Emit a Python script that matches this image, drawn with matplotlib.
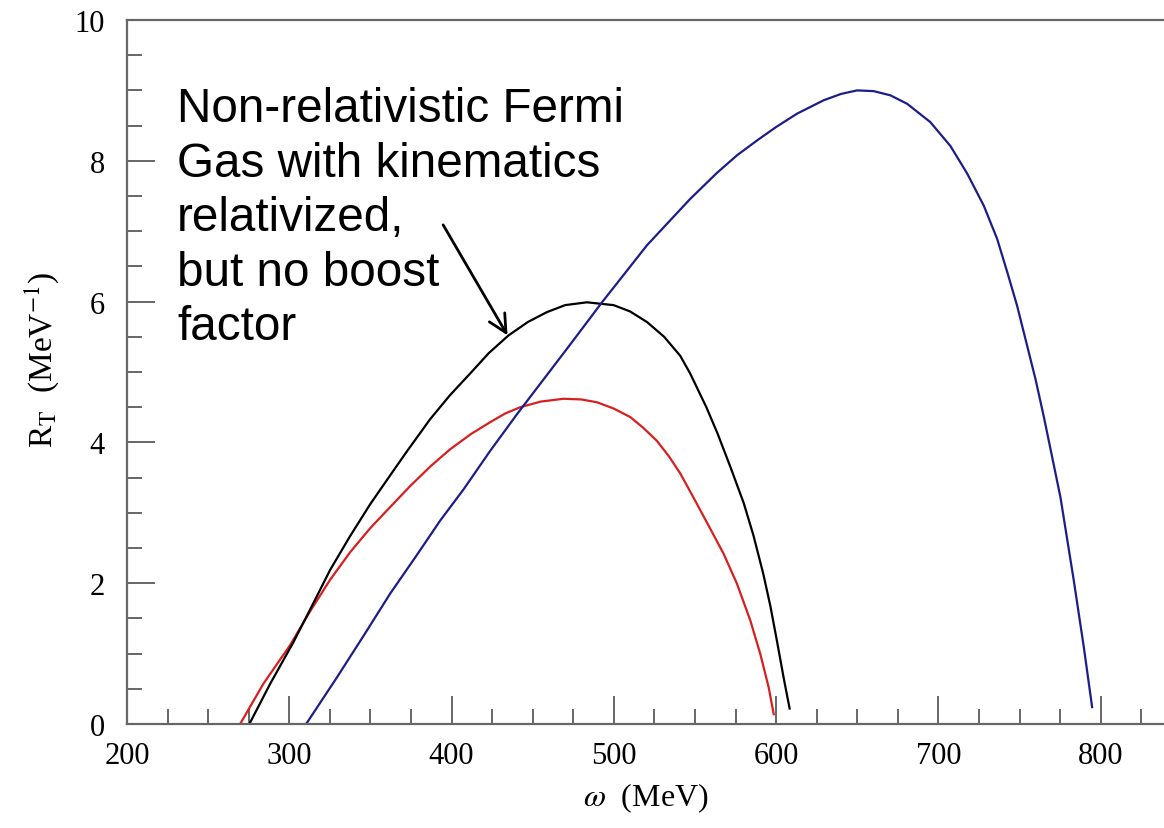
import numpy as np
import matplotlib
matplotlib.use("Agg")
import matplotlib.pyplot as plt
from matplotlib.ticker import MultipleLocator

plt.rcParams['font.family'] = 'Liberation Serif'
plt.rcParams['mathtext.fontset'] = 'stix'

# curve points (omega in MeV, R_T in MeV^-1)
w_black = [275.4, 288.2, 302.5, 314.9, 325.2, 337.5, 349.8, 362.1, 372.4, 386.8, 399.0, 411.5, 423.0,
           435.1, 447.0, 458.7, 470.0, 483.4, 499.8, 510.0, 520.4, 531.0, 540.9, 547.0, 557.0, 564.0,
           572.0, 580.0, 586.0, 592.0, 596.4, 600.5, 604.6, 608.3]
r_black = [0.0, 0.57, 1.16, 1.72, 2.19, 2.67, 3.12, 3.53, 3.87, 4.33, 4.67, 4.98, 5.27,
           5.52, 5.71, 5.85, 5.95, 5.99, 5.95, 5.86, 5.71, 5.50, 5.23, 4.98, 4.50, 4.12,
           3.64, 3.14, 2.68, 2.14, 1.68, 1.18, 0.66, 0.22]

w_red = [269.7, 284.0, 300.5, 312.8, 325.2, 337.5, 349.8, 362.1, 374.5, 387.0, 399.0, 412.0, 424.0,
         433.0, 442.3, 455.0, 469.0, 480.0, 489.6, 500.0, 510.1, 518.0, 526.6, 534.0, 540.9, 547.1,
         557.4, 567.6, 575.9, 584.1, 590.3, 595.4, 598.5]
r_red = [0.0, 0.57, 1.12, 1.60, 2.05, 2.44, 2.78, 3.08, 3.38, 3.66, 3.90, 4.12, 4.29,
         4.41, 4.50, 4.58, 4.62, 4.61, 4.57, 4.48, 4.36, 4.21, 4.02, 3.80, 3.56, 3.30,
         2.86, 2.42, 1.99, 1.47, 0.99, 0.52, 0.14]

w_blue = [310.4, 329.3, 345.7, 362.1, 378.6, 393.0, 407.3, 423.8, 440.3, 471.1, 492.7, 520.4, 547.1,
          563.6, 576.0, 588.3, 600.0, 612.9, 629.3, 640.0, 649.9, 660.0, 670.4, 680.7, 695.0, 707.4,
          717.7, 728.0, 736.2, 742.4, 748.5, 754.7, 759.8, 764.9, 775.2, 783.4, 789.6, 794.7]
r_blue = [0.0, 0.66, 1.25, 1.85, 2.40, 2.89, 3.33, 3.88, 4.40, 5.33, 5.99, 6.80, 7.46,
          7.83, 8.08, 8.29, 8.48, 8.67, 8.86, 8.95, 9.0, 8.99, 8.93, 8.81, 8.55, 8.21,
          7.82, 7.36, 6.89, 6.42, 5.94, 5.37, 4.90, 4.37, 3.22, 2.04, 1.09, 0.24]

note = "Non-relativistic Fermi\nGas with kinematics\nrelativized,\nbut no boost\nfactor"

fig = plt.figure(figsize=(11.64, 8.29), dpi=100)
ax = fig.add_axes([127/1164, 104/829, 1 - 127/1164, (725 - 21)/829])

ax.plot(w_red, r_red, color='#d81e1e', lw=1.6)
ax.plot(w_black, r_black, color='black', lw=1.6)
ax.plot(w_blue, r_blue, color='#1c1c8a', lw=1.6)

ax.set_xlim(200, 839)
ax.set_ylim(0, 10)

ax.xaxis.set_major_locator(MultipleLocator(100))
ax.xaxis.set_minor_locator(MultipleLocator(25))
ax.yaxis.set_major_locator(MultipleLocator(2))
ax.yaxis.set_minor_locator(MultipleLocator(0.5))

gray = '#666666'
for side in ['left', 'bottom', 'top']:
    ax.spines[side].set_color(gray)
    ax.spines[side].set_linewidth(1.6)
ax.spines['right'].set_visible(False)

ax.tick_params(which='both', direction='in', color=gray, width=1.4,
               top=False, right=False, labelsize=22)
ax.tick_params(which='major', length=20)
ax.tick_params(which='minor', length=11)
ax.tick_params(axis='y', pad=16)
ax.tick_params(axis='x', pad=12)

ax.set_xlabel(r"$\omega$  (MeV)", fontsize=23, labelpad=8)
ax.set_ylabel(r"R$_\mathrm{T}$  (MeV$^{\mathrm{-1}}$)", fontsize=24)
ax.yaxis.set_label_coords(-0.064, 0.518)

ax.text(230.8, 9.06, note, fontsize=34.3, family='Liberation Sans',
        ha='left', va='top', linespacing=1.27)
ax.annotate("", xy=(434.5, 5.52), xytext=(394.8, 7.09),
            arrowprops=dict(arrowstyle='->', color='black', lw=2,
                            mutation_scale=32, shrinkA=0, shrinkB=0))

fig.savefig("out.png", dpi=100)
